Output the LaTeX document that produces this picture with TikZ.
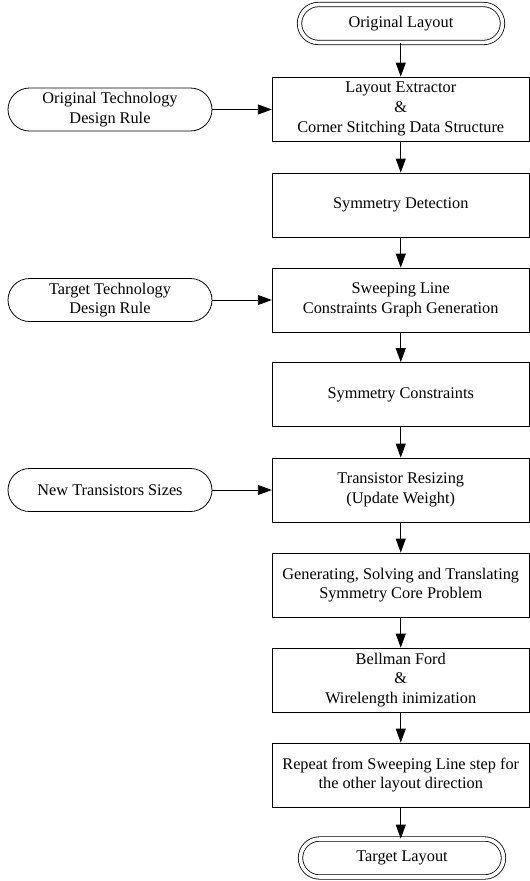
\documentclass[tikz,border=0pt]{standalone}
\usepackage{fontspec}
\setmainfont{Liberation Serif}
\usetikzlibrary{shapes.misc,arrows.meta}
\begin{document}
\begin{tikzpicture}[x=1pt,y=-1pt,
  every node/.style={font=\fontsize{16.3}{19.8}\selectfont, align=center, inner sep=0pt},
  stepbox/.style={draw, line width=0.8pt, rectangle, minimum width=257pt, minimum height=64pt},
  term/.style={draw, line width=0.8pt, rounded rectangle, minimum width=204pt, minimum height=43pt},
  endterm/.style={draw, line width=0.8pt, double, double distance=3.6pt, rounded rectangle, minimum width=203pt, minimum height=38pt},
  arr/.style={line width=0.8pt, -{Triangle[length=14pt,width=10pt]}}]
\useasboundingbox (0,0) rectangle (530,881);
\node[endterm] (start) at (401,23.5) {Original Layout};
\node[stepbox] (b1) at (400.75,109) {Layout Extractor\\\&\\Corner Stitching Data Structure};
\node[stepbox] (b2) at (400.75,205) {Symmetry Detection};
\node[stepbox] (b3) at (400.75,300) {Sweeping Line\\Constraints Graph Generation};
\node[stepbox] (b4) at (400.75,394.5) {Symmetry Constraints};
\node[stepbox] (b5) at (400.75,490) {Transistor Resizing\\(Update Weight)};
\node[stepbox] (b6) at (400.75,585) {Generating, Solving and Translating\\Symmetry Core Problem};
\node[stepbox] (b7) at (400.75,680) {Bellman Ford\\\&\\Wirelength inimization};
\node[stepbox] (b8) at (400.75,775) {Repeat from Sweeping Line step for\\the other layout direction};
\node[endterm] (end) at (402,858) {Target Layout};
\node[term] (t1) at (110,109.5) {Original Technology\\Design Rule};
\node[term] (t2) at (110,300) {Target Technology\\Design Rule};
\node[term] (t3) at (110,490) {New Transistors Sizes};
\draw[arr] (start.south -| b1.north) -- (b1.north);
\draw[arr] (b1) -- (b2);
\draw[arr] (b2) -- (b3);
\draw[arr] (b3) -- (b4);
\draw[arr] (b4) -- (b5);
\draw[arr] (b5) -- (b6);
\draw[arr] (b6) -- (b7);
\draw[arr] (b7) -- (b8);
\draw[arr] (b8.south) -- (b8.south |- end.north);
\draw[arr] (t1.east) -- (t1.east -| b1.west);
\draw[arr] (t2.east) -- (t2.east -| b3.west);
\draw[arr] (t3.east) -- (t3.east -| b5.west);
\end{tikzpicture}
\end{document}
